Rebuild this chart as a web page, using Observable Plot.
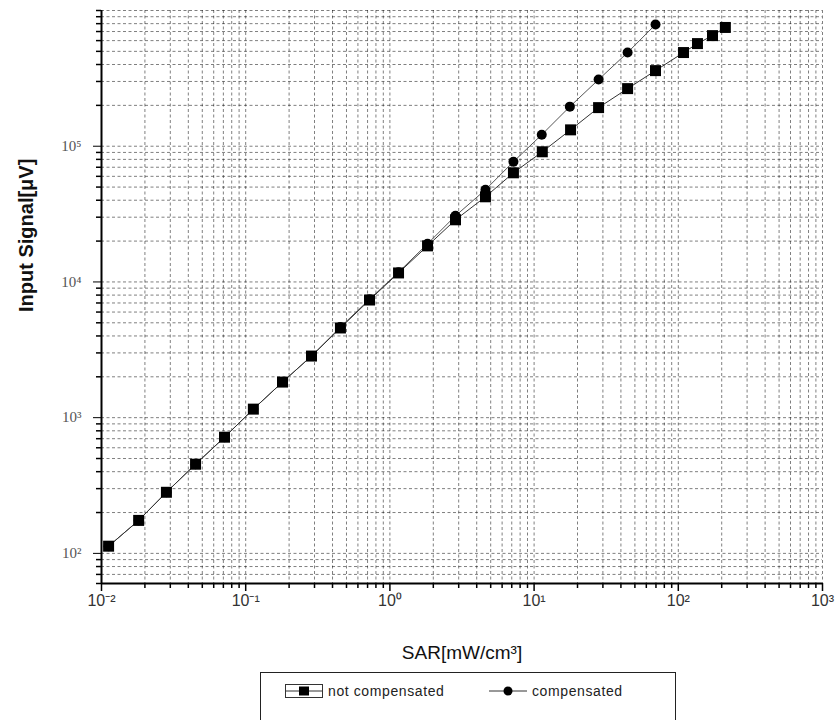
<!DOCTYPE html>
<html>
<head>
<meta charset="utf-8">
<script src="https://cdn.jsdelivr.net/npm/d3@7"></script>
<script src="https://cdn.jsdelivr.net/npm/@observablehq/plot@0.6"></script>
<style>
  html, body { margin: 0; padding: 0; background: #fff; }
  #wrap { position: relative; width: 839px; height: 720px; overflow: hidden; font-family: "Liberation Sans", Arial, sans-serif; }
  #legend { position: absolute; left: 260px; top: 672px; width: 416px; height: 52px; border: 1px solid #222; box-sizing: border-box; font-size: 14px; letter-spacing: 0.6px; color: #222; }
  .item { position: absolute; top: 9px; display: flex; align-items: center; height: 18px; }
  .item svg { margin-right: 5px; }
  g[aria-label="xtitle"] text { letter-spacing: 1.6px; }
  g[aria-label="ytitle"] text { letter-spacing: 1px; }
</style>
</head>
<body>
<div id="wrap"></div>
<script>
// ---- data ----
const sarNotComp = [0.0112, 0.0181, 0.0282, 0.0449, 0.0713, 0.113, 0.180, 0.286, 0.454, 0.722, 1.148, 1.824, 2.85, 4.60, 7.19, 11.4, 17.9, 28.0, 44.5, 69.5, 108.7, 135.8, 172.6, 212];
const sigNotComp = [113, 175, 282, 454, 718, 1156, 1829, 2844, 4580, 7360, 11650, 18440, 28700, 42400, 63700, 91000, 132000, 192500, 265700, 360600, 490000, 570400, 653000, 750000];
const sarComp = [0.0112, 0.0181, 0.0282, 0.0449, 0.0713, 0.113, 0.180, 0.286, 0.454, 0.722, 1.148, 1.824, 2.85, 4.60, 7.19, 11.3, 17.7, 28.0, 44.5, 69.5];
const sigComp = [113, 175, 282, 454, 718, 1156, 1829, 2844, 4650, 7450, 11800, 19100, 30700, 47800, 76900, 121600, 195700, 309800, 490000, 788000];
const xDecades = [0.01, 0.1, 1, 10, 100, 1000];
const yDecades = [100, 1000, 10000, 100000, 1000000];
const yLabelled = [100, 1000, 10000, 100000];
const minorMult = [2, 3, 4, 5, 6, 7, 8, 9];
const yMinorExtra = [60, 70, 80, 90];
const xLabel = "SAR[mW/cm³]";
const yLabel = "Input Signal[μV]";
const seriesNames = ["not compensated", "compensated"];

// ---- build tables ----
const nc = sarNotComp.map((x, i) => ({x, y: sigNotComp[i]}));
const cp = sarComp.map((x, i) => ({x, y: sigComp[i]}));
const xMinor = xDecades.slice(0, -1).flatMap(d => minorMult.map(m => +(d * m).toPrecision(6)));
const yMinor = yMinorExtra.concat(yDecades.slice(0, -1).flatMap(d => minorMult.map(m => d * m)));
const supMap = {"-": "⁻", "0": "⁰", "1": "¹", "2": "²", "3": "³", "4": "⁴", "5": "⁵", "6": "⁶", "7": "⁷", "8": "⁸", "9": "⁹"};
const pow10 = v => "10" + String(Math.round(Math.log10(v))).split("").map(c => supMap[c]).join("");

const gridStyle = {stroke: "#000", strokeOpacity: 0.5, strokeDasharray: "3,2.5", strokeWidth: 1};

const chart = Plot.plot({
  width: 839,
  height: 668,
  marginLeft: 101,
  marginRight: 17,
  marginTop: 10,
  marginBottom: 85,
  style: {background: "#fff", fontFamily: "Liberation Sans, Arial, sans-serif"},
  x: {type: "log", domain: [0.01, 1000]},
  y: {type: "log", domain: [60, 1000000]},
  marks: [
    Plot.gridX(xMinor.concat(xDecades), gridStyle),
    Plot.gridY(yMinor.concat(yDecades), gridStyle),
    // x ticks
    Plot.axisX(xMinor, {tickSize: 5, tickFormat: () => "", label: null, strokeWidth: 1.5}),
    Plot.axisX(xDecades, {tickSize: 8, tickPadding: 3, tickFormat: pow10, label: null, fontSize: 16, fill: "#333", strokeWidth: 1.5}),
    // y ticks
    Plot.axisY(yMinor.concat([1000000]), {tickSize: 5, tickFormat: () => "", label: null, strokeWidth: 1.5}),
    Plot.axisY(yLabelled, {tickSize: 8, tickPadding: 12, tickFormat: pow10, label: null, fontSize: 15, fill: "#555", fontFamily: "Liberation Serif, Times New Roman, serif"}),
    // axis lines
    Plot.ruleX([0.01], {stroke: "#000", strokeWidth: 2}),
    Plot.ruleY([60], {stroke: "#000", strokeWidth: 2}),
    // series
    Plot.line(cp, {x: "x", y: "y", stroke: "#555", strokeWidth: 1}),
    Plot.line(nc, {x: "x", y: "y", stroke: "#333", strokeWidth: 1}),
    Plot.dot(cp, {x: "x", y: "y", symbol: "circle", r: 5, fill: "#000"}),
    Plot.dot(nc, {x: "x", y: "y", symbol: "square", r: 6.2, fill: "#000"}),
    // axis titles
    Plot.text([xLabel], {frameAnchor: "bottom", dy: 75, fontSize: 19, fill: "#111", ariaLabel: "xtitle"}),
    Plot.text([yLabel], {frameAnchor: "left", dx: -75, dy: 15, rotate: -90, fontSize: 20, fontWeight: "bold", fill: "#111", ariaLabel: "ytitle"})
  ]
});

const wrap = document.getElementById("wrap");
wrap.appendChild(chart);

const legend = document.createElement("div");
legend.id = "legend";
legend.innerHTML = `
  <div class="item" style="left:24px">
    <svg width="38" height="16"><rect x="0.5" y="1.5" width="37" height="13" fill="none" stroke="#333" stroke-width="1"/>
      <line x1="0" y1="8" x2="38" y2="8" stroke="#333" stroke-width="1"/>
      <rect x="14" y="3.5" width="10" height="9" fill="#000"/></svg>
    <span>${seriesNames[0]}</span>
  </div>
  <div class="item" style="left:228px">
    <svg width="38" height="16"><line x1="0" y1="8" x2="38" y2="8" stroke="#333" stroke-width="1"/>
      <circle cx="19" cy="8" r="4.5" fill="#000"/></svg>
    <span>${seriesNames[1]}</span>
  </div>`;
wrap.appendChild(legend);
</script>
</body>
</html>
